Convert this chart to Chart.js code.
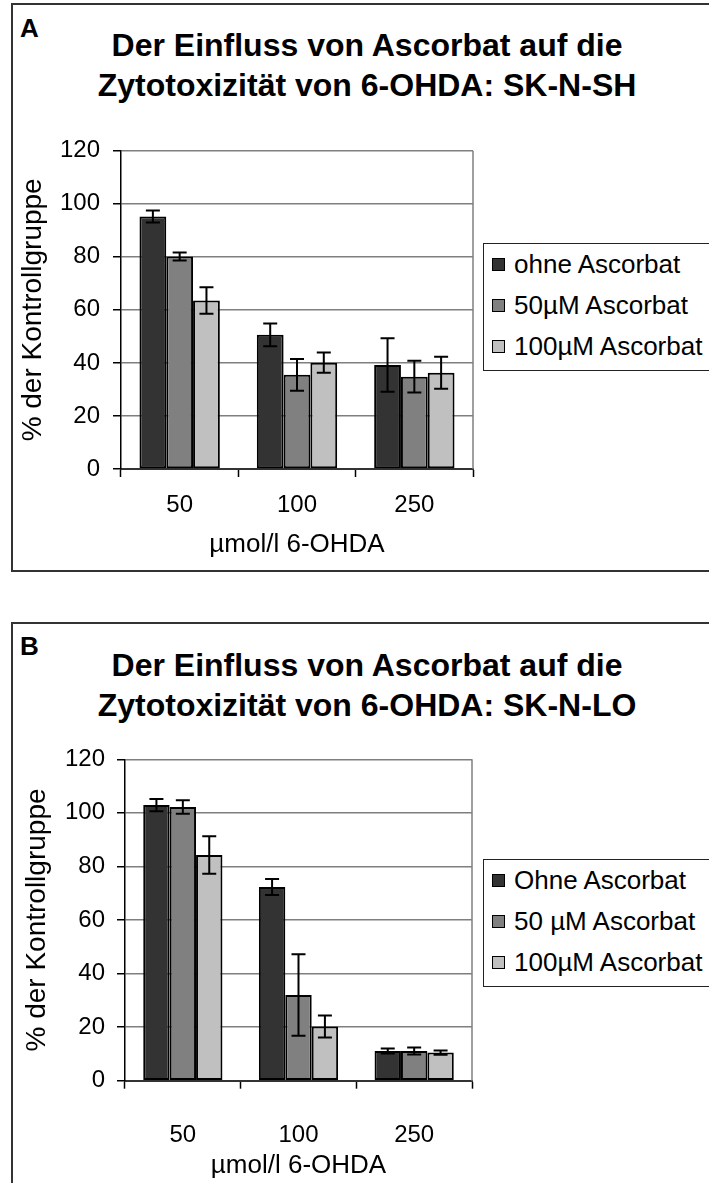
<!DOCTYPE html>
<html>
<head>
<meta charset="utf-8">
<script src="https://cdn.jsdelivr.net/npm/chart.js@4/dist/chart.umd.min.js"></script>
<style>
  html, body { margin: 0; padding: 0; background: #fff; }
  body { width: 709px; height: 1183px; position: relative; overflow: hidden;
         font-family: 'Liberation Sans', Arial, sans-serif; color: #000; }
  .frame { position: absolute; border: 2px solid #333; box-sizing: border-box; }
  .panel-letter { position: absolute; font-weight: bold; font-size: 26px; line-height: 26px; }
  .title { position: absolute; width: 640px; text-align: center; font-weight: bold;
           font-size: 32px; line-height: 40px; white-space: nowrap; }
  canvas { position: absolute; left: 0; }
  .legend { position: absolute; border: 1.5px solid #222; box-sizing: border-box;
            width: 240px; padding-top: 0; background: #fff; }
  .legend .row { height: 41px; display: flex; align-items: center; font-size: 26px; white-space: nowrap; }
  .legend .sw { width: 13px; height: 13px; box-sizing: border-box; border: 1.5px solid #000;
                margin-left: 8px; margin-right: 9px; flex: none; }
</style>
</head>
<body>
<div class="frame" style="left:11px; top:3px; width:720px; height:569px;"></div>
<div class="frame" style="left:11px; top:622px; width:720px; height:600px;"></div>

<div class="panel-letter" style="left:20px; top:15px;">A</div>
<div class="panel-letter" style="left:20px; top:633px;">B</div>

<div class="title" style="left:47px; top:25px;">Der Einfluss von Ascorbat auf die<br>Zytotoxizität von 6-OHDA: SK-N-SH</div>
<div class="title" style="left:47px; top:645px;">Der Einfluss von Ascorbat auf die<br>Zytotoxizität von 6-OHDA: SK-N-LO</div>

<canvas id="chartA" width="709" height="571" style="top:0px;"></canvas>
<canvas id="chartB" width="709" height="561" style="top:622px;"></canvas>

<div class="legend" id="legendA" style="left:483px; top:243px; height:128px;"></div>
<div class="legend" id="legendB" style="left:483px; top:859px; height:128px;"></div>

<script>
// Doses on the x axis
const doses = ['50', '100', '250'];
const yTicks = [0, 20, 40, 60, 80, 100, 120];

// Series colours (dark, medium, light grey)
const seriesColors = ['#333333', '#808080', '#c0c0c0'];

// SK-N-SH (panel A): % of control, mean and error
const seriesNamesA = ['ohne Ascorbat', '50µM Ascorbat', '100µM Ascorbat'];
const ohneAscA = [95.2, 50.6, 39.2];
const ohneAscErrA = [2.3, 4.3, 10.1];
const asc50A = [80.1, 35.5, 34.8];
const asc50ErrA = [1.5, 6.0, 6.0];
const asc100A = [63.5, 40.1, 36.3];
const asc100ErrA = [5.0, 3.8, 6.0];

// SK-N-LO (panel B)
const seriesNamesB = ['Ohne Ascorbat', '50 µM Ascorbat', '100µM Ascorbat'];
const ohneAscB = [102.9, 72.3, 11.1];
const ohneAscErrB = [2.3, 3.0, 0.9];
const asc50B = [102.2, 32.0, 11.1];
const asc50ErrB = [2.5, 15.2, 1.3];
const asc100B = [84.3, 20.2, 10.5];
const asc100ErrB = [7.0, 4.1, 0.8];

const FONT = "'Liberation Sans', Arial, sans-serif";
Chart.defaults.font.family = FONT;
Chart.defaults.color = '#000';

// Vertical error bars with caps, drawn from each bar's value and error
const errorBars = {
  id: 'errorBars',
  afterDatasetsDraw(chart) {
    const { ctx } = chart;
    const y = chart.scales.y;
    ctx.save();
    ctx.strokeStyle = '#000';
    ctx.lineWidth = 2;
    chart.data.datasets.forEach((ds, i) => {
      const meta = chart.getDatasetMeta(i);
      meta.data.forEach((bar, j) => {
        const v = ds.data[j], e = ds.errors[j];
        const top = y.getPixelForValue(v + e);
        const bot = y.getPixelForValue(v - e);
        const cap = 7;
        ctx.beginPath();
        ctx.moveTo(bar.x, top); ctx.lineTo(bar.x, bot);
        ctx.moveTo(bar.x - cap, top); ctx.lineTo(bar.x + cap, top);
        ctx.moveTo(bar.x - cap, bot); ctx.lineTo(bar.x + cap, bot);
        ctx.stroke();
      });
    });
    ctx.restore();
  }
};

// Grey right-hand edge of the plot area
const plotFrame = {
  id: 'plotFrame',
  beforeDatasetsDraw(chart) {
    const { ctx, chartArea: a } = chart;
    ctx.save();
    ctx.strokeStyle = '#7f7f7f';
    ctx.lineWidth = 1.5;
    ctx.beginPath();
    ctx.moveTo(a.right, a.top);
    ctx.lineTo(a.right, a.bottom);
    ctx.stroke();
    ctx.restore();
  }
};

function makeDatasets(names, values, errors) {
  return names.map((name, i) => ({
    label: name,
    data: values[i],
    errors: errors[i],
    backgroundColor: seriesColors[i],
    borderColor: '#000',
    borderWidth: 2,
    borderSkipped: false,
    categoryPercentage: 0.685,
    barPercentage: 1.0
  }));
}

function makeChart(id, datasets, geo) {
  return new Chart(document.getElementById(id), {
    type: 'bar',
    data: { labels: doses, datasets },
    plugins: [plotFrame, errorBars],
    options: {
      responsive: false,
      animation: false,
      devicePixelRatio: 1,
      events: [],
      layout: { padding: { left: geo.padLeft, right: geo.padRight, top: geo.padTop, bottom: 0 } },
      plugins: { legend: { display: false }, title: { display: false }, tooltip: { enabled: false } },
      scales: {
        x: {
          afterFit(s) { s.height = geo.xHeight; },
          grid: { display: true, drawOnChartArea: false, drawTicks: true, tickLength: 8,
                  tickColor: '#000', tickWidth: 1.5, offset: true },
          border: { display: true, color: '#333', width: 2 },
          ticks: { padding: geo.xTickPad, font: { size: 24 }, color: '#000' },
          title: { display: true, text: 'µmol/l 6-OHDA', font: { size: 26 },
                   padding: { top: 0, bottom: geo.xTitlePad }, color: '#000' }
        },
        y: {
          min: 0, max: 120,
          afterFit(s) { s.width = 111; },
          afterBuildTicks(s) { s.ticks = yTicks.map(v => ({ value: v })); },
          grid: { color: '#7f7f7f', lineWidth: 1.5, drawTicks: true, tickLength: 8,
                  tickColor: '#000', tickWidth: 1.5 },
          border: { display: true, color: '#000', width: 1.5 },
          ticks: { padding: geo.yTickPad, font: { size: 24 }, color: '#000' },
          title: { display: true, text: '% der Kontrollgruppe', font: { size: 28 },
                   padding: { top: 6.2, bottom: 0 }, color: '#000' }
        }
      }
    }
  });
}

makeChart('chartA',
  makeDatasets(seriesNamesA, [ohneAscA, asc50A, asc100A], [ohneAscErrA, asc50ErrA, asc100ErrA]),
  { padLeft: 10, padRight: 236, padTop: 150.7, xHeight: 102, xTickPad: 14.1, xTitlePad: 10.4, yTickPad: 13 });

makeChart('chartB',
  makeDatasets(seriesNamesB, [ohneAscB, asc50B, asc100B], [ohneAscErrB, asc50ErrB, asc100ErrB]),
  { padLeft: 14, padRight: 237, padTop: 137.3, xHeight: 102.3, xTickPad: 32, xTitlePad: 1.4, yTickPad: 12 });

// Legends built from the series names and colours
function buildLegend(id, names) {
  const box = document.getElementById(id);
  names.forEach((name, i) => {
    const row = document.createElement('div');
    row.className = 'row';
    const sw = document.createElement('span');
    sw.className = 'sw';
    sw.style.background = seriesColors[i];
    const txt = document.createElement('span');
    txt.textContent = name;
    row.appendChild(sw);
    row.appendChild(txt);
    box.appendChild(row);
  });
}
buildLegend('legendA', seriesNamesA);
buildLegend('legendB', seriesNamesB);
</script>
</body>
</html>
